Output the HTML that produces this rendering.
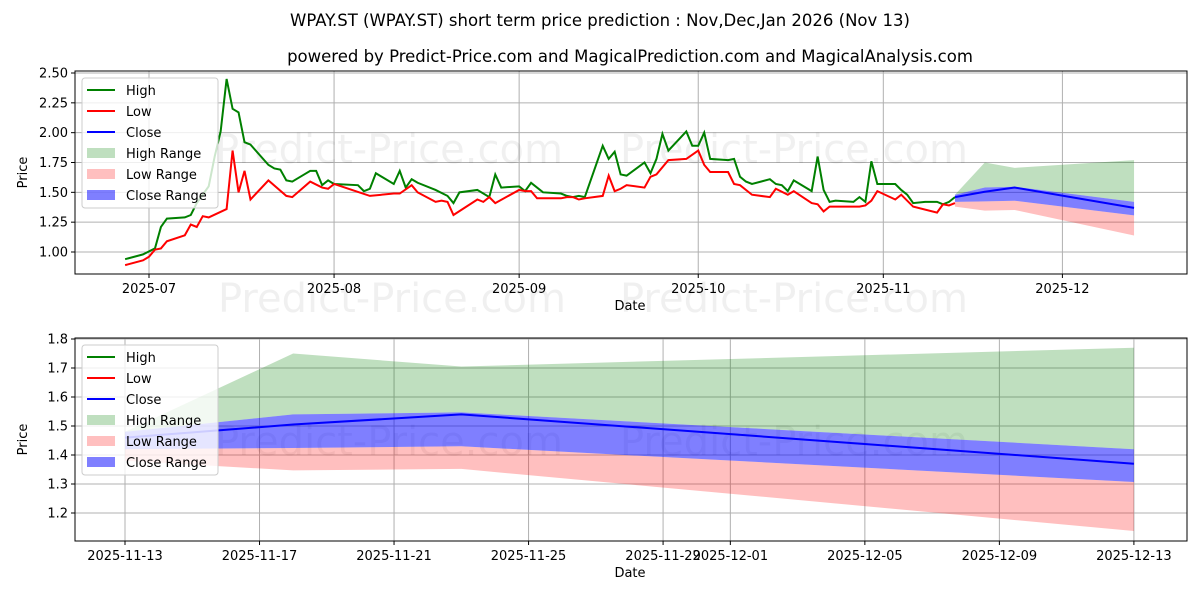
<!DOCTYPE html>
<html><head><meta charset="utf-8"><style>
body{margin:0;background:#fff;}
svg{display:block;font-family:"DejaVu Sans","Liberation Sans",sans-serif;}
</style></head><body>
<svg id="c" width="1200" height="600" viewBox="0 0 1200 600">
<rect width="1200" height="600" fill="#fff"/>
<text x="600" y="26" text-anchor="middle" font-size="16.5">WPAY.ST (WPAY.ST) short term price prediction : Nov,Dec,Jan 2026 (Nov 13)</text>
<text x="630" y="62" text-anchor="middle" font-size="16.5">powered by Predict-Price.com and MagicalPrediction.com and MagicalAnalysis.com</text>
</svg>
<script>
// historical data: days offset from 2025-07-01
const highDays=[-4,-1,1,2,3,6,7,8,10,11,12,13,14,15,16,17,20,21,22,23,24,26,27,28,29,30,31,35,36,37,38,41,42,43,44,45,48,50,51,52,55,57,58,59,62,63,64,66,69,70,71,72,73,76,77,78,79,80,83,84,85,86,87,90,91,92,93,94,97,98,99,100,101,104,105,106,107,108,111,112,113,114,115,118,119,120,121,122,125,126,127,128,130,132,133,134,135];
const highVals=[0.94,0.98,1.03,1.21,1.28,1.29,1.31,1.41,1.55,1.80,2.01,2.45,2.20,2.17,1.92,1.90,1.73,1.70,1.69,1.60,1.59,1.65,1.68,1.68,1.56,1.60,1.57,1.56,1.51,1.53,1.66,1.57,1.68,1.54,1.61,1.58,1.52,1.47,1.41,1.50,1.52,1.46,1.65,1.54,1.55,1.51,1.58,1.50,1.49,1.47,1.46,1.47,1.46,1.89,1.78,1.84,1.65,1.64,1.75,1.66,1.78,1.99,1.85,2.01,1.89,1.89,2.00,1.78,1.77,1.78,1.63,1.59,1.57,1.61,1.57,1.56,1.51,1.60,1.51,1.80,1.52,1.42,1.43,1.42,1.46,1.42,1.76,1.57,1.57,1.52,1.48,1.41,1.42,1.42,1.40,1.42,1.46];
const lowDays=[-4,-1,0,1,2,3,6,7,8,9,10,13,14,15,16,17,20,23,24,27,29,30,31,34,37,41,42,44,45,48,49,50,51,55,56,57,58,62,63,64,65,69,70,71,72,73,76,77,78,79,80,83,84,85,87,90,92,93,94,97,98,99,101,104,105,107,108,111,112,113,114,119,120,121,122,125,126,128,132,133,134,135];
const lowVals=[0.89,0.93,0.96,1.02,1.03,1.09,1.14,1.23,1.21,1.30,1.29,1.36,1.85,1.50,1.68,1.44,1.60,1.47,1.46,1.59,1.54,1.53,1.57,1.52,1.47,1.49,1.49,1.56,1.50,1.42,1.43,1.42,1.31,1.44,1.42,1.46,1.41,1.52,1.51,1.51,1.45,1.45,1.46,1.46,1.44,1.45,1.47,1.64,1.51,1.53,1.56,1.54,1.63,1.65,1.77,1.78,1.85,1.73,1.67,1.67,1.57,1.56,1.48,1.46,1.53,1.48,1.51,1.41,1.40,1.34,1.38,1.38,1.39,1.43,1.51,1.44,1.48,1.38,1.33,1.40,1.39,1.41];
// forecast: days offset from 2025-11-13
const fcDays=[0,5,10,30];
const fcClose=[1.46,1.505,1.54,1.37];
const fcHighTop=[1.48,1.75,1.705,1.77];
const fcHighBot=[1.48,1.54,1.547,1.42];
const fcCloseTop=[1.48,1.54,1.547,1.42];
const fcCloseBot=[1.42,1.424,1.43,1.307];
const fcLowTop=[1.42,1.424,1.43,1.307];
const fcLowBot=[1.38,1.347,1.352,1.138];
const topYTicks=[1.00,1.25,1.50,1.75,2.00,2.25,2.50];
const topXTickDays=[0,31,62,92,123,153];
const topXTickLabels=["2025-07","2025-08","2025-09","2025-10","2025-11","2025-12"];
const botYTicks=[1.2,1.3,1.4,1.5,1.6,1.7,1.8];
const botXTickDays=[0,4,8,12,16,18,22,26,30];
const botXTickLabels=["2025-11-13","2025-11-17","2025-11-21","2025-11-25","2025-11-29","2025-12-01","2025-12-05","2025-12-09","2025-12-13"];
const FC0=135; // Nov 13 as day offset from Jul 1

const NS="http://www.w3.org/2000/svg";
const svg=document.getElementById('c');
function mk(tag,attrs,parent,text){const e=document.createElementNS(NS,tag);for(const k in attrs)e.setAttribute(k,attrs[k]);if(text!==undefined)e.textContent=text;(parent||svg).appendChild(e);return e;}

function drawPanel(P){
  const g=mk('g',{});
  
  
  const X=P.x, Y=P.y;
  P.yTicks.forEach(v=>{const yy=Y(v);
    const l=mk('line',{x1:P.l,x2:P.r,y1:yy,y2:yy,stroke:'#b0b0b0','stroke-width':1},g);
    
    
    mk('line',{x1:P.l-4,x2:P.l,y1:yy,y2:yy,stroke:'#000'},g);
    const t=mk('text',{x:P.l-7,y:yy+4.5,'text-anchor':'end','font-size':13},g,P.yFmt(v));
    
    
  });
  P.xTicks.forEach((d,i)=>{const xx=X(d);
    const l=mk('line',{x1:xx,x2:xx,y1:P.t,y2:P.b,stroke:'#b0b0b0','stroke-width':1},g);
    
    
    mk('line',{x1:xx,x2:xx,y1:P.b,y2:P.b+4,stroke:'#000'},g);
    const t=mk('text',{x:xx,y:P.b+19,'text-anchor':'middle','font-size':13},g,P.xLabels[i]);
    
    
  });
  P.wm.forEach(w=>{const t=mk('text',{x:w[0],y:w[1],'font-size':40,fill:'#000','fill-opacity':0.06},g,'Predict-Price.com');
    
    });
  function band(top,bot,color,op,name){
    let pts=fcDays.map((d,i)=>X(P.fcOff+d)+','+Y(top[i]));
    for(let i=fcDays.length-1;i>=0;i--)pts.push(X(P.fcOff+fcDays[i])+','+Y(bot[i]));
    const p=mk('polygon',{points:pts.join(' '),fill:color,'fill-opacity':op},g);
    
    
  }
  band(fcHighTop,fcHighBot,'#008000',0.25,'high-range-band');
  band(fcLowTop,fcLowBot,'#ff0000',0.25,'low-range-band');
  band(fcCloseTop,fcCloseBot,'#0000ff',0.5,'close-range-band');
  if(P.hist){
    const h=mk('polyline',{points:highDays.map((d,i)=>X(d)+','+Y(highVals[i])).join(' '),fill:'none',stroke:'#008000','stroke-width':2},g);
    
    
    const lo=mk('polyline',{points:lowDays.map((d,i)=>X(d)+','+Y(lowVals[i])).join(' '),fill:'none',stroke:'#ff0000','stroke-width':2},g);
    
    
  }
  const c=mk('polyline',{points:fcDays.map((d,i)=>X(P.fcOff+d)+','+Y(fcClose[i])).join(' '),fill:'none',stroke:'#0000ff','stroke-width':2},g);
  
  
  mk('rect',{x:P.l,y:P.t,width:P.r-P.l,height:P.b-P.t,fill:'none',stroke:'#000','stroke-width':1},g);
  const yl=mk('text',{x:0,y:0,'text-anchor':'middle','font-size':13,transform:`translate(27,${(P.t+P.b)/2}) rotate(-90)`},g,'Price');
  
  
  const xl=mk('text',{x:630,y:P.b+36,'text-anchor':'middle','font-size':13},g,'Date');
  
  
  const lg=mk('g',{},g);
  
  
  mk('rect',{x:82,y:P.t+7,width:136,height:130,rx:3,fill:'#fff','fill-opacity':0.8,stroke:'#ccc'},lg);
  const items=[['High','line','#008000'],['Low','line','#ff0000'],['Close','line','#0000ff'],['High Range','box','rgba(0,128,0,0.25)'],['Low Range','box','rgba(255,0,0,0.25)'],['Close Range','box','rgba(0,0,255,0.5)']];
  items.forEach((it,i)=>{const yy=P.t+18+i*21;
    const e=mk('g',{},lg);
    
    
    if(it[1]==='line')mk('line',{x1:87,x2:115,y1:yy+1,y2:yy+1,stroke:it[2],'stroke-width':2},e);
    else mk('rect',{x:87,y:yy-4,width:28,height:10,fill:it[2]},e);
    mk('text',{x:126,y:yy+6,'font-size':13},e,it[0]);
  });
}
drawPanel({name:'history-panel',l:75,r:1187,t:71,b:274,
  x:d=>149+d*5.97, y:v=>252-(v-1)*119.33,
  yTicks:topYTicks,yFmt:v=>v.toFixed(2),xTicks:topXTickDays,xLabels:topXTickLabels,
  fcOff:FC0,hist:true,wm:[[215,163],[620,163],[218,312],[620,312]]});
drawPanel({name:'forecast-panel',l:75,r:1187,t:338,b:541,
  x:d=>125+d*33.63, y:v=>339+(1.8-v)*290,
  yTicks:botYTicks,yFmt:v=>v.toFixed(1),xTicks:botXTickDays,xLabels:botXTickLabels,
  fcOff:0,hist:false,wm:[[215,455],[620,455]]});
</script>
</body></html>
